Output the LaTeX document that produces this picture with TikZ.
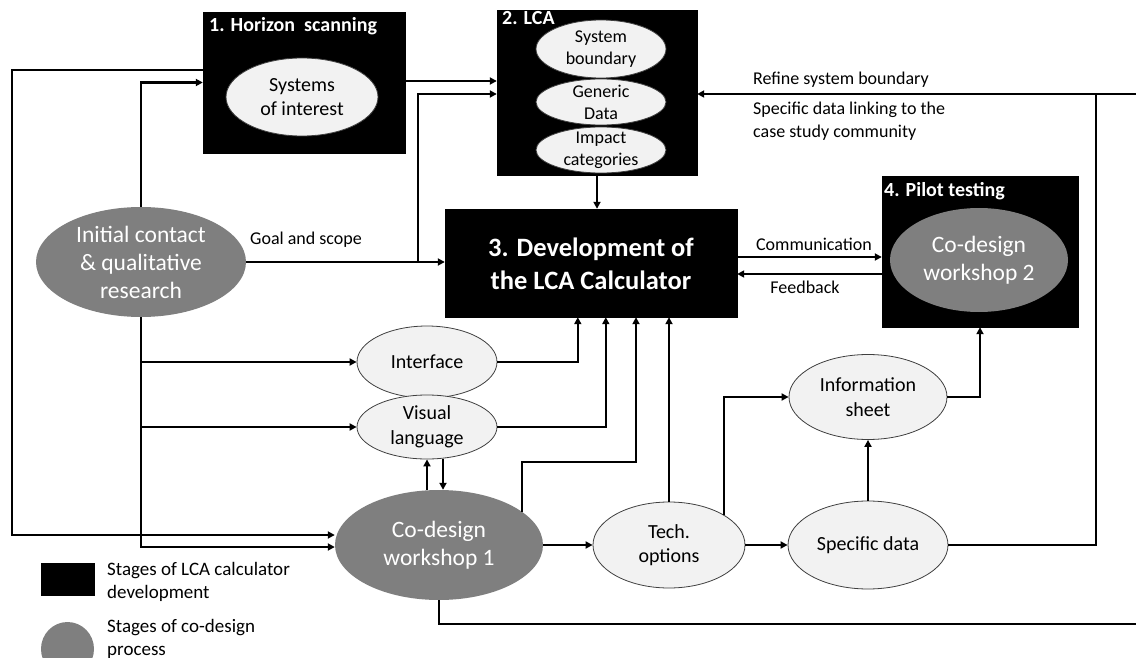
\documentclass[tikz,border=0pt]{standalone}
\usepackage{fontspec}
\setmainfont{Carlito}
\usetikzlibrary{shapes.geometric,arrows.meta,calc}
\definecolor{cdgray}{HTML}{7F7F7F}
\definecolor{ltfill}{HTML}{F2F2F2}
\definecolor{ltdraw}{HTML}{3F3F3F}
\begin{document}
\begin{tikzpicture}[x=1pt,y=-1pt,
  blk/.style={fill=black,draw=black,inner sep=0pt},
  ttl/.style={text=white,font=\bfseries\fontsize{20}{24}\selectfont,inner sep=0pt,anchor=west},
  lell/.style={ellipse,draw=ltdraw,fill=ltfill,line width=0.8pt,inner sep=0pt},
  dell/.style={ellipse,fill=cdgray,draw=none,inner sep=0pt},
  ltxt/.style={align=center,inner sep=0pt,font=\fontsize{20}{24.5}\selectfont},
  stxt/.style={align=center,inner sep=0pt,font=\fontsize{18}{22}\selectfont},
  dtxt/.style={align=center,inner sep=0pt,text=white,font=\fontsize{23.5}{28}\selectfont},
  lbl/.style={font=\fontsize{18}{23}\selectfont,inner sep=0pt,align=left},
  con/.style={line width=2.2pt},
  arr/.style={con,-{Triangle[length=7pt,width=7pt]}},
]
\useasboundingbox (0,0) rectangle (1136,658);

% ---- boxes
\node[blk,minimum width=202pt,minimum height=141pt] (b1) at (304,82.5) {};
\node[ttl] (b1t) at (209,26) {1. Horizon~ scanning};
\node[lell,minimum width=152pt,minimum height=78pt] (soi) at (302,97) {};
\node[ltxt] (soit) at (soi) {Systems\\of interest};

\node[blk,minimum width=200pt,minimum height=165pt] (lca) at (597,92.5) {};
\node[ttl] (lcat) at (502,18) {2. LCA};
\node[lell,minimum width=130pt,minimum height=58pt] (sb) at (601,49) {};
\node[stxt] (sbt) at (sb) {System\\boundary};
\node[lell,minimum width=130pt,minimum height=46pt] (gd) at (601,102) {};
\node[stxt] (gdt) at (gd) {Generic\\Data};
\node[lell,minimum width=130pt,minimum height=46pt] (ic) at (601,150) {};
\node[stxt] (ict) at (ic) {Impact\\categories};

\node[blk,minimum width=292pt,minimum height=108pt] (b3) at (591,263) {};
\node[align=center,inner sep=0pt,text=white,font=\bfseries\fontsize{26.5}{33}\selectfont] (b3t) at (591,264) {3. Development of\\the LCA Calculator};

\node[blk,minimum width=196pt,minimum height=151pt] (b4) at (980,251.5) {};
\node[ttl] (b4t) at (884,191) {4. Pilot testing};
\node[dell,minimum width=178pt,minimum height=104pt] (cdw2) at (979,260) {};
\node[dtxt] (cdw2t) at (cdw2) {Co-design\\workshop 2};

% ---- ellipses
\node[dell,minimum width=210pt,minimum height=110pt] (init) at (141,262) {};
\node[dtxt] (initt) at (init) {Initial contact\\\& qualitative\\research};

\node[lell,minimum width=140pt,minimum height=72pt] (iface) at (427,362) {};
\node[ltxt] (ifacet) at (iface) {Interface};
\node[lell,minimum width=140pt,minimum height=64pt] (vl) at (427,427) {};
\node[ltxt] (vlt) at (vl) {Visual\\language};

\node[dell,minimum width=208pt,minimum height=110pt] (cdw1) at (439,545) {};
\node[dtxt] (cdw1t) at (cdw1) {Co-design\\workshop 1};

\node[lell,minimum width=152pt,minimum height=86pt] (tech) at (669,545) {};
\node[ltxt] (techt) at (tech) {Tech.\\options};
\node[lell,minimum width=160pt,minimum height=88pt] (spec) at (868,545) {};
\node[ltxt] (spect) at (spec) {Specific data};
\node[lell,minimum width=158pt,minimum height=85pt] (info) at (868,397) {};
\node[ltxt] (infot) at (info) {Information\\sheet};

% ---- labels
\node[lbl] (gsl) at (306,240) {Goal and scope};
\node[lbl,anchor=west] (rsl) at (753,80) {Refine system boundary};
\node[lbl,anchor=west] (sdl) at (753,121.5) {Specific data linking to the\\case study community};
\node[lbl] (coml) at (814,244) {Communication};
\node[lbl] (fbl) at (805,287) {Feedback};

% ---- legend
\node[blk,minimum width=53pt,minimum height=32pt] (legb) at (67.5,579) {};
\node[lbl,anchor=west,font=\fontsize{19}{23}\selectfont] (legbt) at (107,581.5) {Stages of LCA calculator\\development};
\node[dell,minimum width=53pt,minimum height=54pt] (lege) at (67.5,649) {};
\node[lbl,anchor=west,font=\fontsize{19}{23}\selectfont] (leget) at (107,638.5) {Stages of co-design\\process};

% ---- coordinates for free ends / bends
\coordinate (gsj) at (418,262);
\coordinate (rE) at (1136,94);
\coordinate (rJ) at (1096,94);
\coordinate (lft) at (12,70);
\coordinate (bR) at (1136,624);
\coordinate (cdj) at (636,462);

% ---- connectors
\draw[arr] ([yshift=1.5pt]b1.east) -- ([yshift=1.5pt]b1.east -| lca.west);
\draw[arr] (init.north) |- (b1.west);
\draw[arr] ([yshift=12.5pt]b1.west) -- (lft) |- ([yshift=10pt]cdw1.west);
\draw[arr] (init.south) |- ([yshift=-2pt]cdw1.west);
\draw[arr] (init.south |- iface.west) -- (iface.west);
\draw[arr] (init.south |- vl.west) -- (vl.west);
\draw[arr] (init.east) -- (init.east -| b3.west);
\draw[arr] (gsj) |- ([yshift=-1.5pt]lca.west);
\draw[arr] (rE) -- (rE -| lca.east);
\draw[con] (spec.east) -| (rJ);
\draw[arr] (lca.south) -- (lca.south |- b3.north);
\draw[arr] ([yshift=6pt]b3.east) -- ([yshift=6pt]b3.east -| b4.west);
\draw[arr] ([yshift=-11pt]b3.east -| b4.west) -- ([yshift=-11pt]b3.east);
\draw[arr] (iface.east) -| ([xshift=133pt]b3.south west);
\draw[arr] (vl.east) -| ([xshift=161pt]b3.south west);
\draw[arr] (cdw1.22) |- (cdj) -- (cdj |- b3.south);
\draw[arr] (tech.north) -- (tech.north |- b3.south);
\draw[arr] (vl.south |- cdw1.north) -- (vl.south);
\draw[arr] ([xshift=16pt]vl.south) -- ([xshift=16pt]vl.south |- cdw1.north);
\draw[arr] (cdw1.east) -- (tech.west);
\draw[arr] (tech.east) -- (spec.west);
\draw[arr] (spec.north) -- (info.south);
\draw[arr] (tech.29) |- (info.west);
\draw[arr] (info.east) -| (b4.south);
\draw[con] (cdw1.south) |- (bR);
\end{tikzpicture}
\end{document}
